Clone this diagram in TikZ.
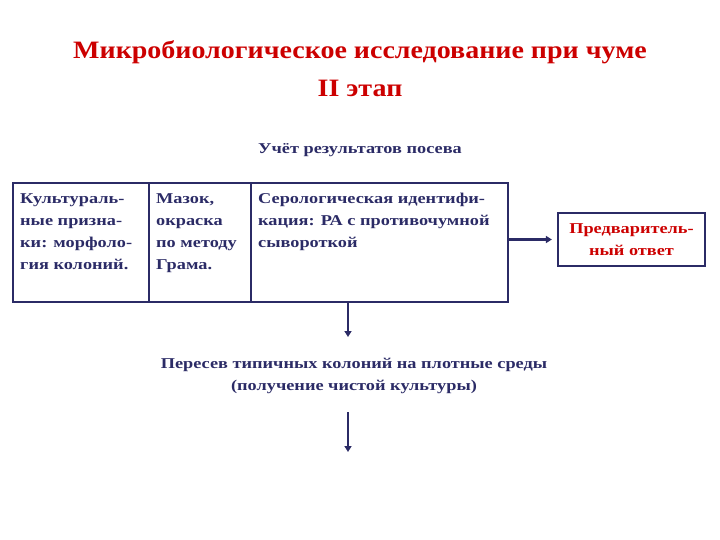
\documentclass[tikz,border=0pt]{standalone}
\usepackage{fontspec}
\setmainfont[FakeStretch=1.22]{Liberation Serif}
\newfontfamily\titlefont[FakeStretch=1.12]{Liberation Serif}
\usetikzlibrary{arrows.meta}
\definecolor{navy}{HTML}{2B2B66}
\definecolor{tred}{HTML}{CC0000}
\begin{document}
\begin{tikzpicture}[x=1pt,y=-1pt,
  txt/.style={font=\bfseries\fontsize{15}{22}\selectfont, text=navy, inner sep=0pt},
  col/.style={txt, anchor=north west, align=left},
  frame/.style={draw=navy, line width=2.2pt},
  conn/.style={draw=navy, line width=2.4pt, -{Triangle[length=6pt,width=7pt]}}]
\useasboundingbox (0,0) rectangle (720,540);
\node[font=\titlefont\bfseries\fontsize{25}{38}\selectfont, text=tred, align=center] (title) at (360,69)
  {Микробиологическое исследование при чуме\\II этап};
\node[txt] (ucet) at (360,150) {Учёт результатов посева};
\node[frame, minimum width=495pt, minimum height=119pt, inner sep=0pt] (box) at (260.5,242.5) {};
\draw[frame] (149,183) -- (149,302);
\draw[frame] (251,183) -- (251,302);
\node[col] (c1) at (20,193) {Культураль-\\ные призна-\\ки: морфоло-\\гия колоний.};
\node[col] (c2) at (156,193) {Мазок,\\окраска\\по методу\\Грама.};
\node[col] (c3) at (258,193) {Серологическая идентифи-\\кация: РА с противочумной\\сывороткой};
\node[frame, minimum width=147pt, minimum height=53pt, inner sep=0pt, align=center,
  font=\bfseries\fontsize{15}{22}\selectfont, text=tred] (pred) at (631.5,239.5) {Предваритель-\\ный ответ};
\coordinate (b1) at (348,302);
\node[txt, align=center] (peres) at (354,376) {Пересев типичных колоний на плотные среды\\(получение чистой культуры)};
\coordinate (a2s) at (348,412);
\coordinate (a2e) at (348,452);
\draw[conn] (b1) -- (348,337);
\draw[conn] (box.east |- pred.west) -- ([xshift=-5pt]pred.west);
\draw[conn] (a2s) -- (a2e);
\end{tikzpicture}
\end{document}
